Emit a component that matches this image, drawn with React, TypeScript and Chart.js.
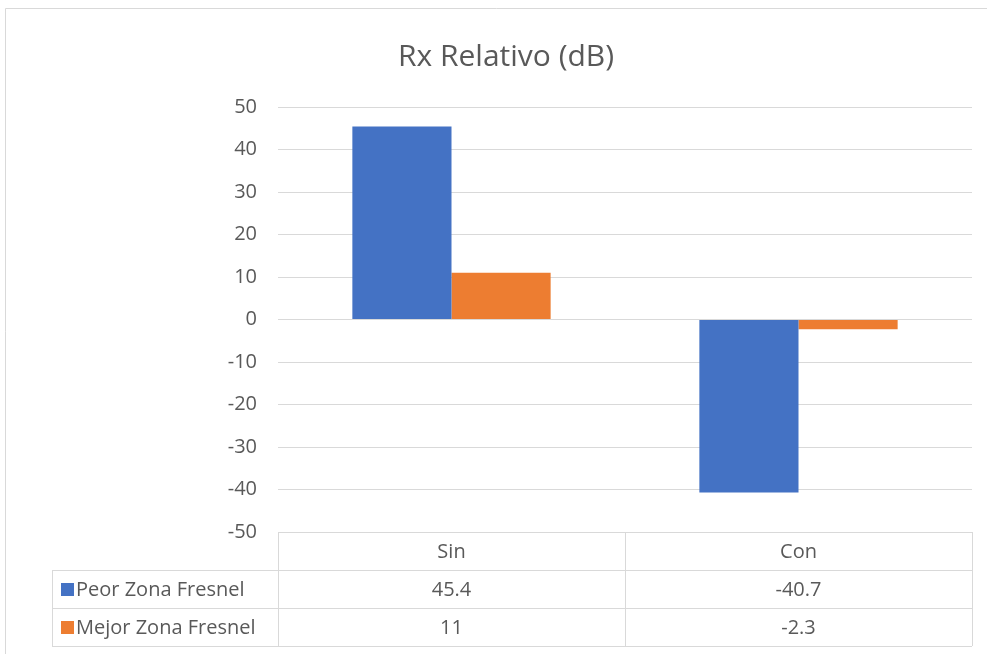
import React, { useEffect, useRef } from "react";
import { Chart, registerables } from "chart.js";

Chart.register(...registerables);

const categories = ["Sin", "Con"];
const seriesNames = ["Peor Zona Fresnel", "Mejor Zona Fresnel"];
const peorValues = [45.4, -40.7];
const mejorValues = [11, -2.3];
const seriesColors = ["#4472C4", "#ED7D31"];
const yMin = -50;
const yMax = 50;
const yStep = 10;
const titleText = "Rx Relativo (dB)";

const FONT = "'Open Sans', 'Noto Sans', sans-serif";
const TEXT = "#595959";
const GRID = "#d9d9d9";

export default function App() {
  const ref = useRef<HTMLCanvasElement | null>(null);
  useEffect(() => {
    const canvas = ref.current;
    if (!canvas) return;
    const tablePlugin = {
      id: "tablePlugin",
      afterDraw(chart: any) {
        const ctx = chart.ctx as CanvasRenderingContext2D;
        const area = chart.chartArea;
        const xs = chart.scales.x;
        ctx.save();
        ctx.strokeStyle = GRID;
        ctx.lineWidth = 1;
        ctx.beginPath();
        ctx.moveTo(5.5, 660);
        ctx.lineTo(5.5, 8.5);
        ctx.lineTo(990, 8.5);
        ctx.stroke();
        ctx.fillStyle = TEXT;
        ctx.font = `30px ${FONT}`;
        ctx.textAlign = "center";
        ctx.textBaseline = "middle";
        ctx.fillText(titleText, 506, 57);
        const rowH = 38;
        const top = area.bottom;
        const left = area.left;
        const right = area.right;
        const legLeft = 52;
        const nRows = chart.data.datasets.length;
        const bottom = top + rowH * (nRows + 1);
        const catW = (right - left) / categories.length;
        ctx.strokeStyle = GRID;
        ctx.beginPath();
        ctx.moveTo(left, top + 0.5);
        ctx.lineTo(right, top + 0.5);
        for (let r = 1; r <= nRows + 1; r++) {
          const y = Math.round(top + r * rowH) + 0.5;
          ctx.moveTo(legLeft, y);
          ctx.lineTo(right, y);
        }
        for (let c = 0; c <= categories.length; c++) {
          const x = Math.round(left + c * catW) + 0.5;
          ctx.moveTo(x, top);
          ctx.lineTo(x, bottom);
        }
        ctx.moveTo(legLeft + 0.5, top + rowH);
        ctx.lineTo(legLeft + 0.5, bottom);
        ctx.stroke();
        ctx.font = `20px ${FONT}`;
        ctx.fillStyle = TEXT;
        ctx.textAlign = "center";
        categories.forEach((c, i) => {
          ctx.fillText(c, xs.getPixelForValue(i), top + rowH / 2 + 1);
        });
        chart.data.datasets.forEach((ds: any, r: number) => {
          const cy = top + rowH * (r + 1) + rowH / 2 + 1;
          ctx.fillStyle = ds.backgroundColor;
          ctx.fillRect(61, cy - 7, 13, 13);
          ctx.fillStyle = TEXT;
          ctx.textAlign = "left";
          ctx.fillText(ds.label, 76, cy);
          ctx.textAlign = "center";
          ds.data.forEach((v: number, i: number) => {
            ctx.fillText(String(v), xs.getPixelForValue(i), cy);
          });
        });
        ctx.restore();
      },
    };
    const chart = new Chart(canvas, {
      type: "bar",
      data: {
        labels: categories,
        datasets: [
          { label: seriesNames[0], data: peorValues, backgroundColor: seriesColors[0] },
          { label: seriesNames[1], data: mejorValues, backgroundColor: seriesColors[1] },
        ],
      },
      options: {
        animation: false,
        responsive: false,
        devicePixelRatio: 1,
        layout: { padding: { top: 107, left: 0, right: 15, bottom: 122 } },
        datasets: { bar: { categoryPercentage: 2 / 3.5, barPercentage: 1 } },
        plugins: { legend: { display: false }, title: { display: false }, tooltip: { enabled: false } },
        scales: {
          x: { display: false },
          y: {
            min: yMin,
            max: yMax,
            ticks: { stepSize: yStep, color: TEXT, font: { size: 20, family: FONT }, padding: 21 },
            grid: { color: GRID, drawTicks: false },
            border: { display: false },
            afterFit(scale: any) {
              scale.width = 278;
            },
          },
        },
      },
      plugins: [tablePlugin],
    });
    return () => chart.destroy();
  }, []);
  return (
    <canvas
      ref={ref}
      width={987}
      height={654}
      style={{ position: "absolute", left: 0, top: 0, width: 987, height: 654, background: "#fff" }}
    />
  );
}
